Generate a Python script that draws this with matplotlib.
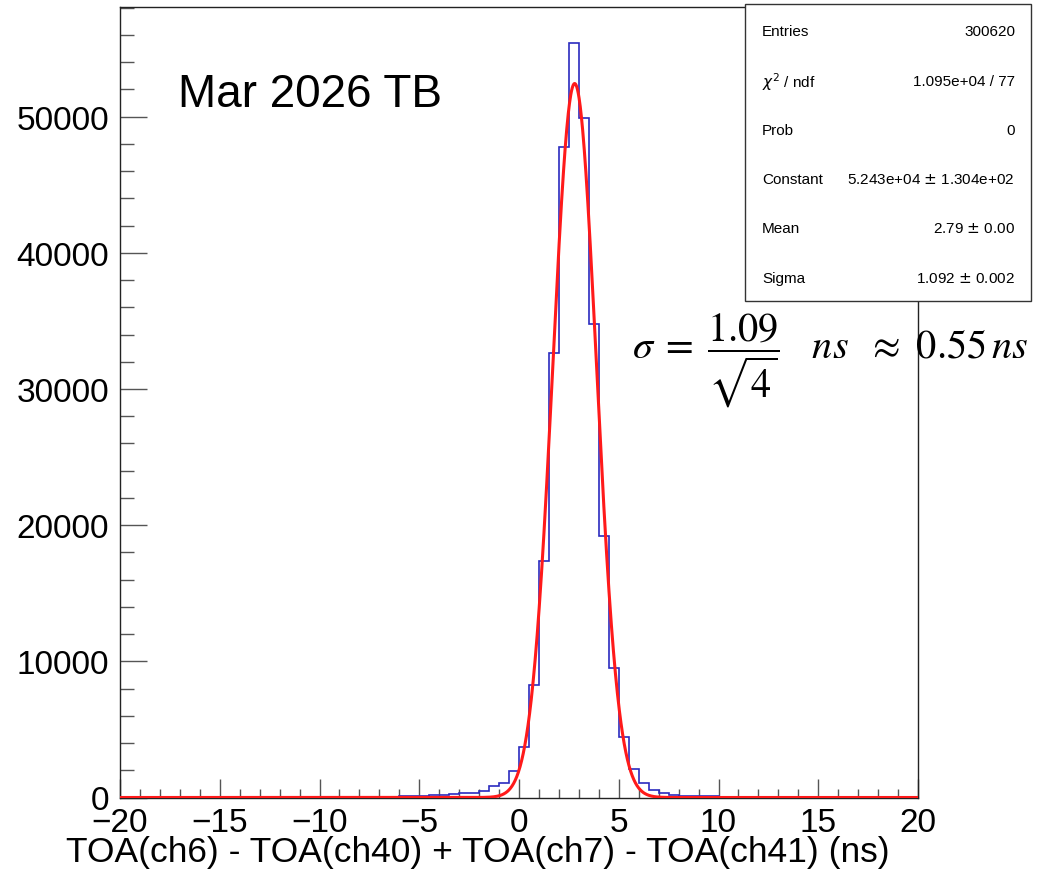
import numpy as np
import matplotlib
matplotlib.use("Agg")
import matplotlib.pyplot as plt
from matplotlib.patches import Rectangle
from matplotlib.ticker import MultipleLocator

plt.rcParams['font.family'] = ['Liberation Sans', 'DejaVu Sans']
plt.rcParams['mathtext.fontset'] = 'stix'

# ---------------- data ----------------
x_min, x_max, n_bins = -20.0, 20.0, 80
# counts per 0.5-wide bin, starting at bin [-20, -19.5]
counts = ([0] * 28 +
          [80, 90, 110, 190, 210, 240, 300, 350, 460, 830, 1080, 1930,
           3725, 8235, 17350, 32650, 47800, 55400, 49900, 34780, 19210, 9510,
           4410, 2070, 1050, 580, 360, 210, 120, 100, 90, 80] +
          [0] * 20)

fit_constant = 5.243e4
fit_mean = 2.79
fit_sigma = 1.092

stats_labels = ["Entries", r"$\chi^{2}$ / ndf", "Prob", "Constant", "Mean", "Sigma"]
stats_values = ["300620", "1.095e+04 / 77", "0", "5.243e+04 $\\pm$ 1.304e+02",
                "2.79 $\\pm$ 0.00", "1.092 $\\pm$ 0.002"]

title_text = "Mar 2026 TB"
xlabel_text = "TOA(ch6) - TOA(ch40) + TOA(ch7) - TOA(ch41) (ns)"
y_max = 58050

# ---------------- figure ----------------
W, H = 1048, 870
fig = plt.figure(figsize=(W / 100, H / 100), dpi=100)
ax = fig.add_axes([120 / W, 1 - 798.5 / H, (918 - 120) / W, (798.5 - 8) / H])

edges = np.linspace(x_min, x_max, n_bins + 1)
ax.stairs(counts, edges, color='#2b2bbf', linewidth=1.2, baseline=0, zorder=3)

xf = np.linspace(x_min, x_max, 2000)
yf = fit_constant * np.exp(-0.5 * ((xf - fit_mean) / fit_sigma) ** 2)
ax.plot(xf, yf, color='#ff1a1a', linewidth=2.2, zorder=4)

ax.set_xlim(x_min, x_max)
ax.set_ylim(0, y_max)

ax.xaxis.set_major_locator(MultipleLocator(5))
ax.xaxis.set_minor_locator(MultipleLocator(1))
ax.yaxis.set_major_locator(MultipleLocator(10000))
ax.yaxis.set_minor_locator(MultipleLocator(2000))

ax.tick_params(axis='both', which='both', direction='in', color='#555555', width=1.0)
ax.tick_params(axis='y', which='major', length=19.5, pad=8, labelsize=24)
ax.tick_params(axis='y', which='minor', length=10)
ax.tick_params(axis='x', which='major', length=13.5, pad=7, labelsize=24)
ax.tick_params(axis='x', which='minor', length=6.5)
ax.tick_params(top=False, right=False)

for s in ax.spines.values():
    s.set_linewidth(1.0)
    s.set_color('#222222')

# x axis title (right aligned as in ROOT)
fig.text(890 / W, 1 - 853 / H, xlabel_text, ha='right', va='center', fontsize=25.5)

# Title text inside plot
fig.text(178 / W, 1 - 95 / H, title_text, ha='left', va='center', fontsize=33)

# stats box
bx0, by0, bx1, by1 = 745, 5, 1031, 302
box = Rectangle((bx0 / W, 1 - by1 / H), (bx1 - bx0) / W, (by1 - by0) / H,
                transform=fig.transFigure, facecolor='white', edgecolor='#333333',
                linewidth=1.0, zorder=10)
fig.add_artist(box)
row_y = [32, 82, 131, 180, 229, 279]
for lab, val, yy in zip(stats_labels, stats_values, row_y):
    t1 = fig.text(762 / W, 1 - yy / H, lab, ha='left', va='center', fontsize=11,
                  zorder=11)
    t2 = fig.text(1015 / W, 1 - yy / H, val, ha='right', va='center', fontsize=11,
                  zorder=11)
    t1.set_math_fontfamily('dejavusans')
    t2.set_math_fontfamily('dejavusans')

# sigma formula
fig.text(632 / W, 1 - 360 / H,
         r'$\sigma\;=\;\dfrac{1.09}{\sqrt{4}}\ \ \ ns\ \ \approx\ 0.55\,ns$',
         ha='left', va='center', fontsize=29, zorder=12)

fig.savefig("out.png", dpi=100)
